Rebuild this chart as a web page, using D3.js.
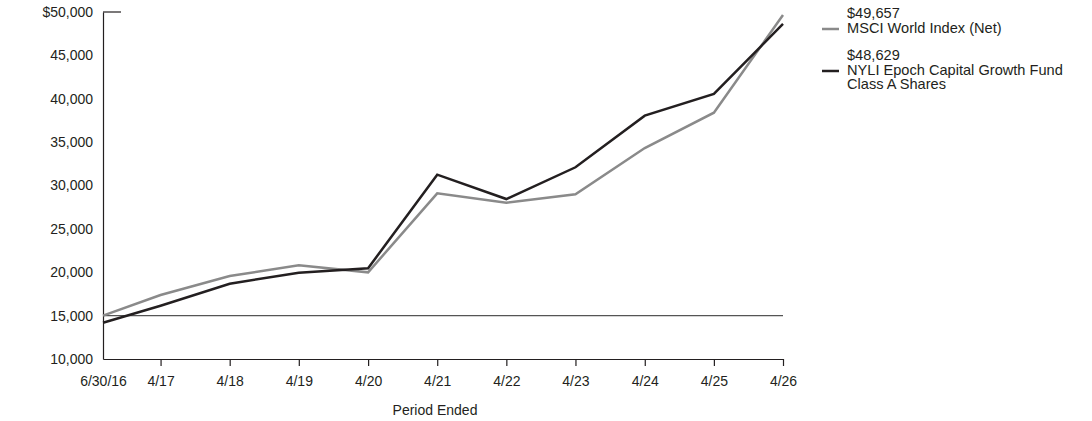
<!DOCTYPE html>
<html>
<head>
<meta charset="utf-8">
<script src="https://cdn.jsdelivr.net/npm/d3@7"></script>
<style>
  body { margin: 0; background: #fff; }
  text { font-family: "Liberation Sans", Arial, sans-serif; }
</style>
</head>
<body>
<div id="chart"></div>
<script>
const width = 1092;
const height = 421;

const periodDates = ["2016-06-30", "2017-04-30", "2018-04-30", "2019-04-30", "2020-04-30",
    "2021-04-30", "2022-04-30", "2023-04-30", "2024-04-30", "2025-04-30", "2026-04-30"];
const periodLabels = ["6/30/16", "4/17", "4/18", "4/19", "4/20", "4/21", "4/22", "4/23", "4/24", "4/25", "4/26"];
const msciValues = [15000, 17380, 19570, 20800, 19990, 29100, 28020, 28990, 34320, 38390, 49657];
const fundValues = [14175, 16140, 18680, 19950, 20460, 31250, 28440, 32100, 38050, 40550, 48629];
const yTicks = [10000, 15000, 20000, 25000, 30000, 35000, 40000, 45000, 50000];
const legendItems = [
    { value: "$49,657", lines: ["MSCI World Index (Net)"], color: "#8a8a8a" },
    { value: "$48,629", lines: ["NYLI Epoch Capital Growth Fund", "Class A Shares"], color: "#231f20" }
];

const fontSize = 14;
const ink = "#231f20";
const parse = d3.timeParse("%Y-%m-%d");
const dates = periodDates.map(parse);

const svg = d3.select("#chart")
    .append("svg")
    .attr("width", width)
    .attr("height", height);

const x = d3.scaleTime()
    .domain([dates[0], dates[dates.length - 1]])
    .range([103, 783]);

const y = d3.scaleLinear()
    .domain([10000, 50000])
    .range([359, 12]);

// baseline at the starting investment
svg.append("line")
    .attr("x1", x.range()[0])
    .attr("x2", x.range()[1])
    .attr("y1", y(15000))
    .attr("y2", y(15000))
    .attr("stroke", "#555")
    .attr("stroke-width", 1.2);

// y axis
const yAxis = svg.append("g")
    .attr("transform", "translate(103,0)")
    .call(d3.axisLeft(y).tickValues(yTicks).tickSize(0).tickPadding(10)
        .tickFormat(d => (d === 50000 ? "$" : "") + d3.format(",")(d)));
yAxis.attr("font-size", fontSize).attr("font-family", "Liberation Sans, Arial, sans-serif");
yAxis.select(".domain").attr("stroke", ink).attr("stroke-width", 1.2);
yAxis.selectAll("text").attr("fill", ink);

svg.append("line")
    .attr("x1", 103).attr("x2", 121)
    .attr("y1", y(50000)).attr("y2", y(50000))
    .attr("stroke", ink).attr("stroke-width", 1.2);

// x axis
const xAxis = svg.append("g")
    .attr("transform", `translate(0,${y(10000)})`)
    .call(d3.axisBottom(x).tickValues(dates).tickSizeInner(7).tickSizeOuter(0).tickPadding(10)
        .tickFormat((d, i) => periodLabels[i]));
xAxis.attr("font-size", fontSize).attr("font-family", "Liberation Sans, Arial, sans-serif");
xAxis.select(".domain").attr("stroke", ink).attr("stroke-width", 1.2);
xAxis.selectAll("line").attr("stroke", ink).attr("stroke-width", 1.2);
xAxis.selectAll(".tick").filter((d, i) => i === 0).select("line").remove();
xAxis.selectAll("text").attr("fill", ink);

svg.append("text")
    .attr("x", 435)
    .attr("y", 415)
    .attr("text-anchor", "middle")
    .attr("font-size", fontSize)
    .attr("fill", ink)
    .text("Period Ended");

const line = d3.line()
    .x((d, i) => x(dates[i]))
    .y(d => y(d));

svg.append("path")
    .datum(msciValues)
    .attr("fill", "none")
    .attr("stroke", legendItems[0].color)
    .attr("stroke-width", 2.5)
    .attr("d", line);

svg.append("path")
    .datum(fundValues)
    .attr("fill", "none")
    .attr("stroke", legendItems[1].color)
    .attr("stroke-width", 2.5)
    .attr("d", line);

// legend
const legendSize = 14.6;
const legend = svg.append("g").attr("transform", "translate(822,0)");
const legendTops = [18, 60];
legendItems.forEach((item, k) => {
    const g = legend.append("g").attr("transform", `translate(0,${legendTops[k]})`);
    g.append("text").attr("x", 25).attr("y", 0).attr("font-size", legendSize).attr("fill", ink).text(item.value);
    item.lines.forEach((t, j) => {
        g.append("text").attr("x", 25).attr("y", 15 + j * 14).attr("font-size", legendSize).attr("fill", ink).text(t);
    });
    g.append("line")
        .attr("x1", 0).attr("x2", 17)
        .attr("y1", 11).attr("y2", 11)
        .attr("stroke", item.color).attr("stroke-width", 2.5);
});
</script>
</body>
</html>
